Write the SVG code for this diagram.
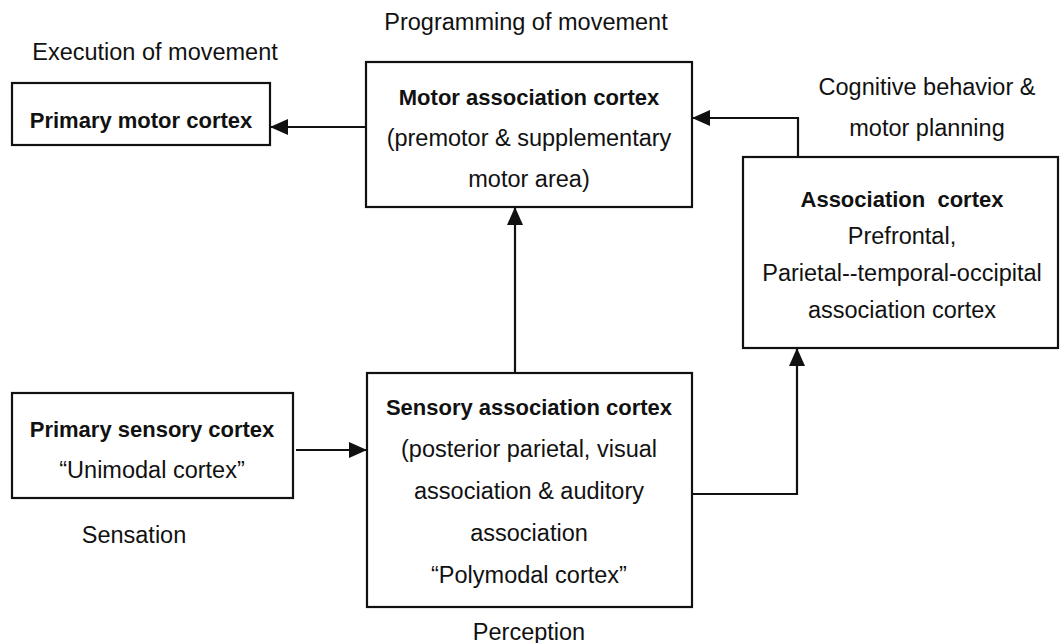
<svg xmlns="http://www.w3.org/2000/svg" width="1061" height="643" viewBox="0 0 1061 643">
<defs>
<style>
text{font-family:"Liberation Sans",Arial,sans-serif;fill:#111;text-anchor:middle}
.r{font-size:23.5px}
.b{font-size:22px;font-weight:bold}
.box{fill:#fff;stroke:#111;stroke-width:2.2}
.con{fill:none;stroke:#111;stroke-width:2.2}
</style>
<marker id="ah" markerUnits="userSpaceOnUse" markerWidth="18" markerHeight="16" refX="17" refY="8" orient="auto">
<path d="M0,0 L18,8 L0,16 z" fill="#111"/>
</marker>
</defs>
<rect width="1061" height="643" fill="#fff"/>
<g id="labels">
<text class="r" x="155" y="60">Execution of movement</text>
<text class="r" x="526" y="30">Programming of movement</text>
<text class="r" x="927" y="95">Cognitive behavior &amp;</text>
<text class="r" x="927" y="136">motor planning</text>
<text class="r" x="134" y="543">Sensation</text>
<text class="r" x="529" y="640">Perception</text>
</g>
<g id="primary-motor">
<rect class="box" x="12" y="83" width="258" height="62"/>
<text class="b" x="141" y="128">Primary motor cortex</text>
</g>
<g id="motor-association">
<rect class="box" x="366" y="62" width="326" height="145"/>
<text class="b" x="529" y="105">Motor association cortex</text>
<text class="r" x="529" y="146">(premotor &amp; supplementary</text>
<text class="r" x="529" y="187">motor area)</text>
</g>
<g id="association">
<rect class="box" x="743" y="157" width="315" height="191"/>
<text class="b" x="902" y="207" xml:space="preserve">Association  cortex</text>
<text class="r" x="902" y="244">Prefrontal,</text>
<text class="r" x="902" y="281">Parietal--temporal-occipital</text>
<text class="r" x="902" y="318">association cortex</text>
</g>
<g id="primary-sensory">
<rect class="box" x="12" y="393" width="281" height="105"/>
<text class="b" x="152" y="437">Primary sensory cortex</text>
<text class="r" x="152" y="478">“Unimodal cortex”</text>
</g>
<g id="sensory-association">
<rect class="box" x="367" y="373" width="325" height="234"/>
<text class="b" x="529" y="415">Sensory association cortex</text>
<text class="r" x="529" y="457">(posterior parietal, visual</text>
<text class="r" x="529" y="499">association &amp; auditory</text>
<text class="r" x="529" y="541">association</text>
<text class="r" x="529" y="583">“Polymodal cortex”</text>
</g>
<g id="connectors">
<path class="con" d="M366,127 H271" marker-end="url(#ah)"/>
<path class="con" d="M515,373 V208" marker-end="url(#ah)"/>
<path class="con" d="M296,450 H366" marker-end="url(#ah)"/>
<path class="con" d="M692,494 H797 V349" marker-end="url(#ah)"/>
<path class="con" d="M798,157 V118 H693" marker-end="url(#ah)"/>
</g>
</svg>
